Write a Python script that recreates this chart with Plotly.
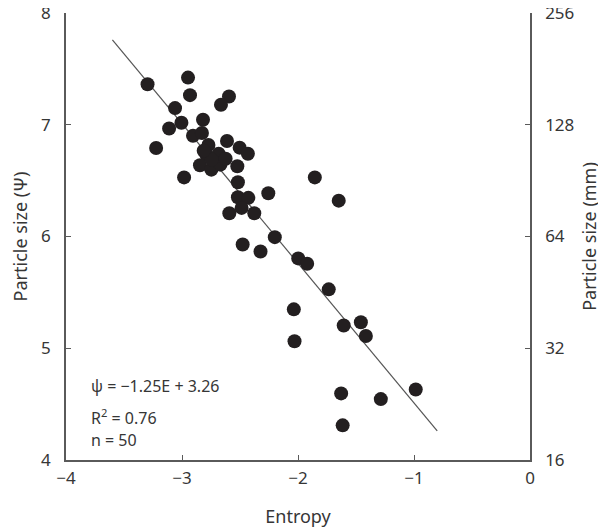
import plotly.graph_objects as go

entropy = [-3.297, -2.948, -2.931, -2.595, -2.664, -3.060, -2.819, -3.005, -3.111, -2.905,
           -2.828, -3.223, -2.772, -2.612, -2.503, -2.432, -2.790, -2.684, -2.845, -2.747,
           -2.669, -2.523, -2.982, -2.518, -2.518, -2.428, -2.256, -2.486, -2.592, -2.377,
           -1.855, -1.649, -2.200, -2.477, -2.323, -1.998, -1.921, -1.735, -2.036, -2.030,
           -1.606, -1.458, -1.415, -1.628, -1.286, -0.985, -1.615, -2.744, -2.813, -2.624]
psi = [7.363, 7.422, 7.265, 7.253, 7.179, 7.149, 7.045, 7.018, 6.967, 6.902,
       6.926, 6.792, 6.819, 6.854, 6.795, 6.741, 6.732, 6.741, 6.637, 6.598,
       6.643, 6.628, 6.529, 6.485, 6.351, 6.346, 6.387, 6.256, 6.208, 6.208,
       6.529, 6.321, 5.994, 5.929, 5.866, 5.804, 5.756, 5.527, 5.348, 5.062,
       5.203, 5.232, 5.110, 4.596, 4.545, 4.631, 4.310, 6.688, 6.768, 6.696]

slope = -1.25
intercept = 3.26
fit_x = [-3.6, -0.8]
fit_y = [slope * v + intercept for v in fit_x]

x_ticks = [-4, -3, -2, -1, 0]
x_labels = ["\u22124", "\u22123", "\u22122", "\u22121", "0"]
y_ticks = [4, 5, 6, 7, 8]
mm_labels = ["16", "32", "64", "128", "256"]

FONT = "Noto Sans"
TXT = "#363636"
AX = "#5a5a5a"

fig = go.Figure()
fig.add_trace(go.Scatter(x=fit_x, y=fit_y, mode="lines",
                         line=dict(color="#555555", width=1.2), showlegend=False,
                         hoverinfo="skip"))
fig.add_trace(go.Scatter(x=entropy, y=psi, mode="markers",
                         marker=dict(size=14, color="#231f20", line=dict(width=0)),
                         showlegend=False))
fig.add_trace(go.Scatter(x=[None], y=[None], yaxis="y2", mode="markers",
                         showlegend=False, hoverinfo="skip"))

common = dict(showgrid=False, zeroline=False, showline=True, linecolor=AX, linewidth=1.5,
              ticks="inside", ticklen=5, tickcolor=AX, tickfont=dict(size=17),
              ticklabeloverflow="allow", automargin=False)

fig.update_layout(
    width=606, height=529,
    margin=dict(l=58, r=84, t=5, b=77),
    plot_bgcolor="white", paper_bgcolor="white",
    font=dict(family=FONT, color=TXT, size=16),
    xaxis=dict(range=[-4, 0], tickvals=x_ticks, ticktext=x_labels, ticklabelstandoff=2,
               title=dict(text="Entropy", font=dict(size=18), standoff=22), **common),
    yaxis=dict(range=[4, 8], tickvals=y_ticks, ticklabelstandoff=10,
               title=dict(text="Particle size (\u03a8)", font=dict(size=18), standoff=13), **common),
    yaxis2=dict(range=[4, 8], tickvals=y_ticks, ticktext=mm_labels, overlaying="y", side="right",
                ticklabelstandoff=10,
                title=dict(text="Particle size (mm)", font=dict(size=18), standoff=10), **common),
    annotations=[
        dict(xref="x", yref="y", x=-3.80, y=4.661, xanchor="left", yanchor="middle",
             text="\u03c8 = \u22121.25E + 3.26", showarrow=False, font=dict(size=16)),
        dict(xref="x", yref="y", x=-3.80, y=4.384, xanchor="left", yanchor="middle",
             text="R<sup>2</sup> = 0.76", showarrow=False, font=dict(size=16)),
        dict(xref="x", yref="y", x=-3.80, y=4.179, xanchor="left", yanchor="middle",
             text="n = 50", showarrow=False, font=dict(size=16)),
    ],
)

fig.write_html("out.html")
